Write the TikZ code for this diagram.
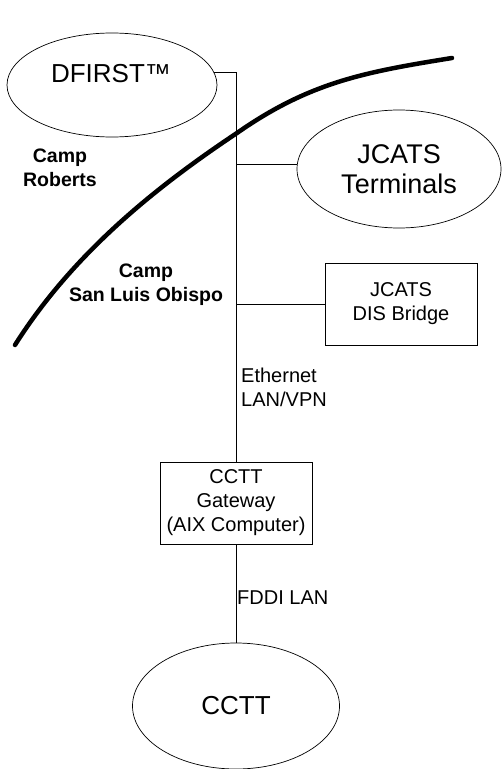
\documentclass[tikz,border=0pt]{standalone}
\usepackage{fontspec}
\setmainfont{Liberation Sans}
\usetikzlibrary{shapes.geometric}
\tikzset{
  wire/.style={line width=0.8bp, black},
  ell/.style={ellipse, draw, line width=0.7bp, inner sep=0pt, align=center},
  box/.style={rectangle, draw, line width=0.8bp, minimum width=152bp, minimum height=82bp, align=center, inner sep=0pt, font=\fontsize{20bp}{24bp}\selectfont},
  lbl/.style={font=\fontsize{20bp}{24bp}\selectfont, align=left, inner sep=0pt},
  camp/.style={font=\bfseries\fontsize{19.5bp}{24bp}\selectfont, align=center, inner sep=0pt},
  big/.style={font=\fontsize{26bp}{30bp}\selectfont, align=center, inner sep=0pt},
  border/.style={line width=4.5bp, line cap=round, line join=round}
}
\begin{document}
\begin{tikzpicture}[x=1bp,y=-1bp]
\useasboundingbox (0,0) rectangle (502,769);
% nodes
\node[ell, minimum width=210bp, minimum height=104bp] (dfirst) at (112,85) {};
\node[big] (dfirsttxt) at (111,74) {DFIRST™};
\node[ell, big, font=\fontsize{27bp}{30bp}\selectfont, minimum width=204bp, minimum height=118bp] (jcats) at (399,169) {JCATS\\Terminals};
\node[box] (bridge) at (401,304) {JCATS\\DIS Bridge};
\node[box] (gateway) at (236,503) {CCTT\\Gateway\\(AIX Computer)};
\node[ell, big, minimum width=207bp, minimum height=126bp] (cctt) at (236,706) {CCTT};
% labels
\node[camp] (roberts) at (60,168) {Camp\\Roberts};
\node[camp] (slo) at (146,285) {Camp\\San Luis Obispo};
\node[lbl, anchor=west] (eth) at (241,387) {Ethernet\\LAN/VPN};
\node[lbl, anchor=west] (fddi) at (237,598) {FDDI LAN};
% connectors
\coordinate (jtap) at (236,164);
\draw[wire] (dfirst.7) -| (gateway.north);
\draw[wire] (jtap) -- (jcats.west |- jtap);
\draw[wire] (gateway.north |- bridge.west) -- (bridge.west);
\draw[wire] (gateway.south) -- (cctt.north);
% boundary curve
\coordinate (c0) at (15,345);
\coordinate (c1) at (237,133);
\coordinate (c2) at (452,58);
\draw[border] (c0) .. controls (75,250) and (162,183) .. (c1)
              .. controls (310,82) and (365,72) .. (c2);
\end{tikzpicture}
\end{document}
